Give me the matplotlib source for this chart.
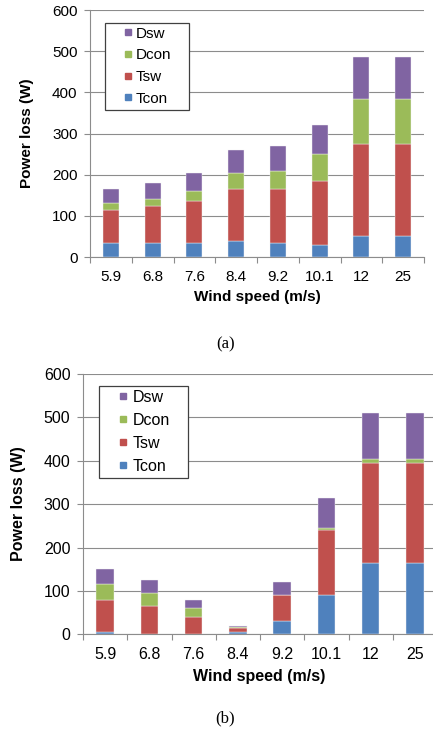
import numpy as np
import matplotlib.pyplot as plt
from matplotlib.lines import Line2D

plt.rcParams['font.family'] = ['Liberation Sans', 'DejaVu Sans']

W, H = 433, 738

speeds = ['5.9', '6.8', '7.6', '8.4', '9.2', '10.1', '12', '25']
names = ['Tcon', 'Tsw', 'Dcon', 'Dsw']
colors = ['#4F81BD', '#C0504D', '#9BBB59', '#8064A2']

# (a) loss components per wind speed (W)
a_tcon = [35, 35, 35, 40, 35, 30, 50, 50]
a_tsw = [80, 90, 100, 125, 130, 155, 225, 225]
a_dcon = [15, 15, 25, 40, 45, 65, 110, 110]
a_dsw = [35, 40, 45, 55, 60, 70, 100, 100]

# (b) loss components per wind speed (W)
b_tcon = [5, 0, 0, 5, 30, 90, 165, 165]
b_tsw = [75, 65, 40, 10, 60, 150, 230, 230]
b_dcon = [35, 30, 20, 2, 0, 5, 10, 10]
b_dsw = [35, 30, 20, 3, 30, 70, 105, 105]


def px(x0, y0, x1, y1):
    return [x0 / W, 1 - y1 / H, (x1 - x0) / W, (y1 - y0) / H]


def stacked(ax, parts, width, fs, leg, hl, ms):
    x = np.arange(len(speeds))
    bottom = np.zeros(len(speeds))
    for vals, c in zip(parts, colors):
        ax.bar(x, vals, width, bottom=bottom, color=c, edgecolor='#f4f4f4',
               linewidth=0.3, zorder=3)
        bottom += np.array(vals)
    ax.set_xlim(-0.5, len(speeds) - 0.5)
    ax.set_ylim(0, 600)
    ax.set_yticks(range(0, 601, 100))
    ax.yaxis.grid(True, color='#8c8c8c', lw=0.8)
    ax.set_axisbelow(True)
    for s in ['top', 'right']:
        ax.spines[s].set_visible(False)
    for s in ['left', 'bottom']:
        ax.spines[s].set_color('#8c8c8c')
        ax.spines[s].set_linewidth(0.8)
    ax.set_xticks(np.arange(-0.5, len(speeds)))
    ax.set_xticklabels([])
    ax.set_xticks(x, minor=True)
    ax.set_xticklabels(speeds, minor=True, fontsize=fs)
    ax.tick_params(axis='x', which='major', length=4, color='#8c8c8c', width=0.8)
    ax.tick_params(axis='x', which='minor', length=0, pad=9)
    ax.tick_params(axis='y', length=4, color='#8c8c8c', width=0.8,
                   labelsize=fs, pad=5)
    handles = [Line2D([], [], marker='s', ls='none', color=c, markersize=ms)
               for c in colors[::-1]]
    lg = ax.legend(handles, names[::-1], loc='upper left', mode='expand',
                   bbox_to_anchor=leg, fontsize=fs, frameon=True,
                   fancybox=False, framealpha=1, edgecolor='#404040',
                   borderpad=0.25, labelspacing=0.5, handlelength=hl,
                   handletextpad=-0.72, borderaxespad=0)
    lg.get_frame().set_linewidth(0.9)
    lg.set_zorder(5)


fig = plt.figure(figsize=(W / 100, H / 100), dpi=100)

ax1 = fig.add_axes(px(90, 10, 424, 257))
stacked(ax1, [a_tcon, a_tsw, a_dcon, a_dsw], 0.38, 11,
        ((105 - 90) / 334, 0, (189 - 105) / 334, (257 - 23) / 247), 2.49, 4.5)

ax2 = fig.add_axes(px(83, 374, 437, 634.3))
stacked(ax2, [b_tcon, b_tsw, b_dcon, b_dsw], 0.4, 11.5,
        ((99 - 83) / 354, 0, (188 - 99) / 354, (634.3 - 386) / 260.3), 2.56, 5)

fig.text(27.5 / W, 1 - 133 / H, 'Power loss (W)', rotation=90, ha='center',
         va='center', fontsize=11, fontweight='bold')
fig.text(257 / W, 1 - 297.5 / H, 'Wind speed (m/s)', ha='center',
         va='center', fontsize=11, fontweight='bold')
fig.text(18.5 / W, 1 - 504 / H, 'Power loss (W)', rotation=90, ha='center',
         va='center', fontsize=11.5, fontweight='bold')
fig.text(259 / W, 1 - 676.5 / H, 'Wind speed (m/s)', ha='center',
         va='center', fontsize=11.5, fontweight='bold')

fig.text(225.5 / W, 1 - 344 / H, '(a)', ha='center', va='center',
         fontsize=12, family=['Liberation Serif', 'DejaVu Serif'])
fig.text(225.5 / W, 1 - 718 / H, '(b)', ha='center', va='center',
         fontsize=12, family=['Liberation Serif', 'DejaVu Serif'])

fig.savefig('out.png', dpi=100)
